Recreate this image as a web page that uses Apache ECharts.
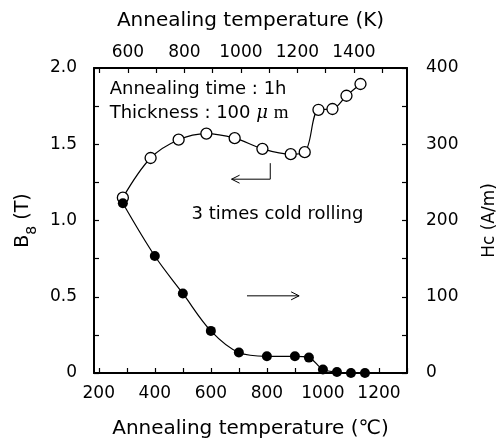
<!DOCTYPE html>
<html>
<head>
<meta charset="utf-8">
<script src="https://cdn.jsdelivr.net/npm/echarts@6/dist/echarts.min.js"></script>
<style>html,body{margin:0;padding:0;background:#fff}#c{width:501px;height:444px}</style>
</head>
<body>
<div id="c"></div>
<script>
// ---- data ----
const tempB8 = [286, 385, 485, 584, 685, 784, 885, 935, 984, 1034, 1084, 1134];   // °C (open circles)
const b8     = [1.15, 1.41, 1.53, 1.57, 1.54, 1.47, 1.435, 1.448, 1.726, 1.731, 1.818, 1.895]; // T
const tempHc = [286, 400, 500, 600, 700, 800, 900, 950, 1000, 1050, 1100, 1150];  // °C (filled circles)
const hc     = [222.6, 153.4, 104.3, 55.2, 26.8, 21.9, 21.9, 20.2, 4.5, 1.3, 0, 0]; // A/m

const xTicksC  = [200, 300, 400, 500, 600, 700, 800, 900, 1000, 1100, 1200, 1300];
const xLabelsC = [200, 400, 600, 800, 1000, 1200];
const xTicksK  = [500, 600, 700, 800, 900, 1000, 1100, 1200, 1300, 1400, 1500];
const xLabelsK = [600, 800, 1000, 1200, 1400];
const yTicksB  = [0, 0.25, 0.5, 0.75, 1.0, 1.25, 1.5, 1.75, 2.0];
const yLabelsB = [0, 0.5, 1.0, 1.5, 2.0];
const yTicksH  = [0, 50, 100, 150, 200, 250, 300, 350, 400];
const yLabelsH = [0, 100, 200, 300, 400];

const FONT = 'DejaVu Sans';
const LBL = 17;
const chart = echarts.init(document.getElementById('c'), null, {renderer: 'canvas'});

function axisCommon(extra) {
  return Object.assign({
    type: 'value',
    axisLine: {show: true, onZero: false, lineStyle: {color: '#000', width: 2}},
    splitLine: {show: false},
    nameTextStyle: {color: '#000', fontFamily: FONT, fontSize: 20}
  }, extra);
}
const plain = v => String(v);

chart.setOption({
  animation: false,
  backgroundColor: '#fff',
  grid: {left: 94, top: 68, width: 313, height: 305, containLabel: false, outerBoundsMode: 'none'},
  xAxis: [
    axisCommon({
      position: 'bottom', min: 183, max: 1300,
      axisTick: {inside: true, length: 5, lineStyle: {color: '#000', width: 1.2}, customValues: xTicksC},
      axisLabel: {customValues: xLabelsC, color: '#000', fontFamily: FONT, fontSize: LBL, margin: 12, formatter: plain},
      name: 'Annealing temperature (\u2103)', nameLocation: 'middle', nameGap: 46
    }),
    axisCommon({
      position: 'top', min: 480, max: 1588,
      axisTick: {inside: true, length: 5, lineStyle: {color: '#000', width: 1.2}, customValues: xTicksK},
      axisLabel: {customValues: xLabelsK, color: '#000', fontFamily: FONT, fontSize: LBL, margin: 7, formatter: plain},
      name: 'Annealing temperature (K)', nameLocation: 'middle', nameGap: 37
    })
  ],
  yAxis: [
    axisCommon({
      position: 'left', min: 0, max: 2,
      axisTick: {inside: true, length: 5, lineStyle: {color: '#000', width: 1.2}, customValues: yTicksB},
      axisLabel: {customValues: yLabelsB, color: '#000', fontFamily: FONT, fontSize: LBL, margin: 17,
        formatter: v => v === 0 ? '0' : v.toFixed(1)},
      name: '{a|B}{s|8}{a| (T)}', nameLocation: 'middle', nameGap: 58,
      nameTextStyle: {color: '#000', fontFamily: FONT, fontSize: 19,
        rich: {a: {fontFamily: FONT, fontSize: 19, color: '#000', lineHeight: 24},
               s: {fontFamily: FONT, fontSize: 14, color: '#000', lineHeight: 24, verticalAlign: 'bottom', padding: [0, 0, -4, 0]}}}
    }),
    axisCommon({
      position: 'right', min: 0, max: 400,
      axisTick: {inside: true, length: 5, lineStyle: {color: '#000', width: 1.2}, customValues: yTicksH},
      axisLabel: {customValues: yLabelsH, color: '#000', fontFamily: FONT, fontSize: LBL, margin: 19, formatter: plain},
      name: 'Hc (A/m)', nameLocation: 'middle', nameGap: 74,
      nameTextStyle: {color: '#000', fontFamily: FONT, fontSize: 17}
    })
  ],
  series: [
    {
      type: 'line', name: 'B8', xAxisIndex: 0, yAxisIndex: 0, smooth: 0.35,
      data: tempB8.map((t, i) => [t, b8[i]]),
      symbol: 'circle', symbolSize: 11,
      lineStyle: {color: '#000', width: 1.2},
      itemStyle: {color: '#fff', borderColor: '#000', borderWidth: 1.3},
      z: 3
    },
    {
      type: 'line', name: 'Hc', xAxisIndex: 0, yAxisIndex: 1, smooth: 0.35,
      data: tempHc.map((t, i) => [t, hc[i]]),
      symbol: 'circle', symbolSize: 10,
      lineStyle: {color: '#000', width: 1.2},
      itemStyle: {color: '#000', borderColor: '#000', borderWidth: 0},
      z: 4
    }
  ]
});

// ---- annotations (placed in data coordinates: °C, T) ----
const textNotes = [
  {c: 239, b: 1.857, text: 'Annealing time : 1h'},
  {c: 239, b: 1.704, text: 'Thickness : 100 {mu|\u03bc} {m|m}'},
  {c: 531, b: 1.043, text: '3 times cold rolling'}
];
const hookArrow = [[812, 1.376], [812, 1.271], [674, 1.271]];
const rightArrow = [[729, 0.506], [915, 0.506]];

function px(p) { return chart.convertToPixel({xAxisIndex: 0, yAxisIndex: 0}, p); }
function head(tip, dir) { // dir: -1 left, +1 right
  return [[tip[0] - dir * 8, tip[1] - 4], tip, [tip[0] - dir * 8, tip[1] + 4]];
}
const hk = hookArrow.map(px);
const ra = rightArrow.map(px);
const graphics = [
  {type: 'polyline', shape: {points: hk}, style: {stroke: '#000', lineWidth: 1, fill: null}, z: 10},
  {type: 'polyline', shape: {points: head(hk[2], -1)}, style: {stroke: '#000', lineWidth: 1, fill: null}, z: 10},
  {type: 'polyline', shape: {points: ra}, style: {stroke: '#000', lineWidth: 1, fill: null}, z: 10},
  {type: 'polyline', shape: {points: head(ra[1], 1)}, style: {stroke: '#000', lineWidth: 1, fill: null}, z: 10}
];
textNotes.forEach(n => {
  const p = px([n.c, n.b]);
  graphics.push({
    type: 'text', x: p[0], y: p[1], z: 10,
    style: {
      text: n.text, fill: '#000', font: '18px "' + FONT + '"', verticalAlign: 'middle', align: 'left',
      rich: {
        mu: {fontFamily: 'DejaVu Serif', fontStyle: 'italic', fontSize: 18, fill: '#000'},
        m: {fontFamily: 'Liberation Serif', fontSize: 19, fill: '#000'}
      }
    }
  });
});
chart.setOption({graphic: graphics});
</script>
</body>
</html>
